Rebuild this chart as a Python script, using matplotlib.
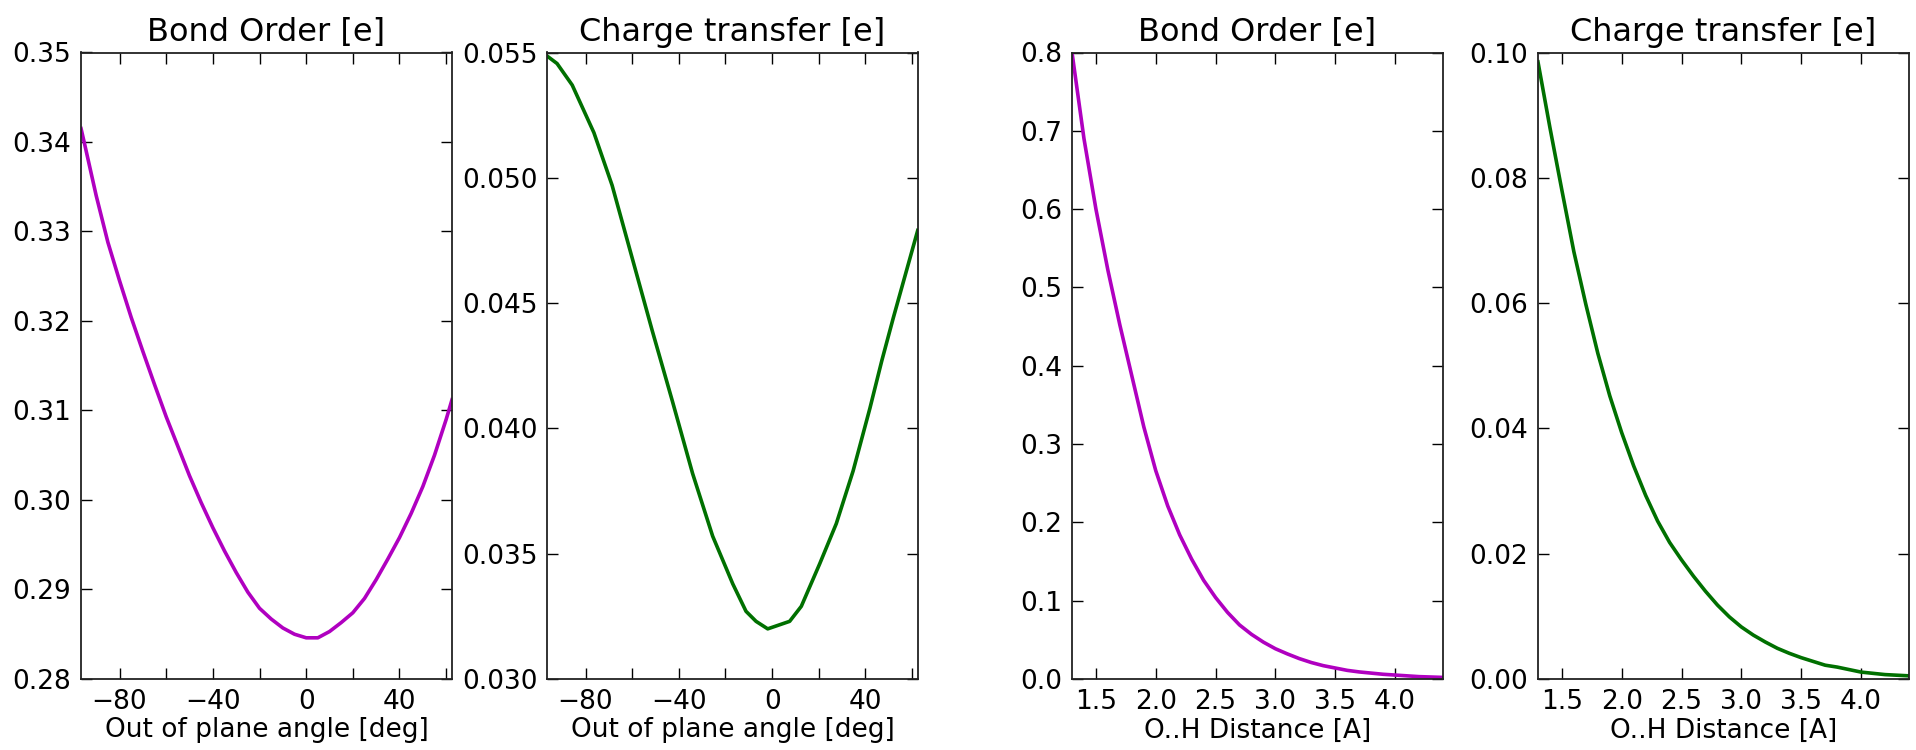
import matplotlib
matplotlib.use("Agg")
import matplotlib.pyplot as plt
from matplotlib.ticker import MultipleLocator, FormatStrFormatter

# out-of-plane angle scan [deg]
ANGLE = [-96.5, -95, -90, -85, -80, -75, -70, -65, -60, -55, -50, -45, -40,
         -35, -30, -25, -20, -15, -10, -5, 0, 5, 10, 15, 20, 25, 30, 35, 40,
         45, 50, 55, 60, 62.5]
ANGLE_BO = [0.3415, 0.3398, 0.3340, 0.3288, 0.3245, 0.3204, 0.3166, 0.3129,
            0.3093, 0.3060, 0.3027, 0.2997, 0.2969, 0.2943, 0.2919, 0.2897,
            0.2879, 0.2867, 0.2857, 0.2850, 0.2846, 0.2846, 0.2853, 0.2863,
            0.2874, 0.2890, 0.2911, 0.2934, 0.2958, 0.2985, 0.3015, 0.3050,
            0.3090, 0.3112]

ANGLE_CT_X = [-96.9, -92.2, -85.7, -76.4, -68.6, -60.0, -51.4, -42.8, -34.1,
              -25.5, -16.9, -11.2, -6.9, -1.9, 7.5, 12.5, 20.4, 27.5, 34.7,
              41.9, 47.0, 51.9, 57.6, 62.4]
ANGLE_CT = [0.05489, 0.05456, 0.0537, 0.0518, 0.0497, 0.0468, 0.0439, 0.0411,
            0.0382, 0.0357, 0.0338, 0.0327, 0.0323, 0.0320, 0.0323, 0.0329,
            0.0346, 0.0362, 0.0383, 0.0408, 0.0427, 0.0444, 0.0463, 0.0479]

# O..H distance scan [A]
DIST = [1.3, 1.4, 1.5, 1.6, 1.7, 1.8, 1.9, 2.0, 2.1, 2.2, 2.3, 2.4, 2.5, 2.6,
        2.7, 2.8, 2.9, 3.0, 3.1, 3.2, 3.3, 3.4, 3.5, 3.6, 3.7, 3.8, 3.9, 4.0,
        4.1, 4.2, 4.3, 4.4]
DIST_BO = [0.800, 0.690, 0.600, 0.522, 0.452, 0.387, 0.322, 0.266, 0.221,
           0.184, 0.153, 0.126, 0.104, 0.085, 0.069, 0.057, 0.047, 0.0386,
           0.032, 0.026, 0.021, 0.017, 0.014, 0.011, 0.009, 0.0075, 0.006,
           0.005, 0.004, 0.003, 0.0025, 0.002]
DIST_CT = [0.0985, 0.0880, 0.0780, 0.0682, 0.0598, 0.0520, 0.0452, 0.0393,
           0.0340, 0.0293, 0.0252, 0.0218, 0.0190, 0.0164, 0.0140, 0.0118,
           0.0099, 0.0083, 0.0070, 0.0059, 0.0049, 0.0041, 0.0034, 0.0028,
           0.0022, 0.0019, 0.0015, 0.0011, 0.0009, 0.0007, 0.0006, 0.0005]

PURPLE = "#b000c0"
GREEN = "#007000"

plt.rcParams["font.family"] = "DejaVu Sans"
plt.rcParams["font.size"] = 19


def style_axes(ax):
    for s in ax.spines.values():
        s.set_linewidth(1.3)
        s.set_color("#222222")
    ax.tick_params(which="both", direction="in", top=True, right=True,
                   length=8, width=1.0, pad=7, labelsize=19)


def main():
    fig = plt.figure(figsize=(19.16, 7.5), dpi=100)
    lefts = [0.0423, 0.2855, 0.5595, 0.8027]
    bottom, width, height = 0.0947, 0.1936, 0.8353
    axes = [fig.add_axes([l, bottom, width, height]) for l in lefts]

    ax = axes[0]
    ax.plot(ANGLE, ANGLE_BO, color=PURPLE, lw=2.6)
    ax.set_ylim(0.28, 0.35)
    ax.yaxis.set_major_locator(MultipleLocator(0.01))
    ax.yaxis.set_major_formatter(FormatStrFormatter("%.2f"))
    ax.set_title("Bond Order [e]", fontsize=23, pad=8)

    ax = axes[1]
    ax.plot(ANGLE_CT_X, ANGLE_CT, color=GREEN, lw=2.6)
    ax.set_ylim(0.030, 0.055)
    ax.yaxis.set_major_locator(MultipleLocator(0.005))
    ax.yaxis.set_major_formatter(FormatStrFormatter("%.3f"))
    ax.set_title("Charge transfer [e]", fontsize=23, pad=8)

    for ax in axes[:2]:
        ax.set_xlim(-96.5, 62.5)
        ax.xaxis.set_major_locator(MultipleLocator(40))
        ax.xaxis.set_minor_locator(MultipleLocator(20))
        ax.set_xlabel("Out of plane angle [deg]", fontsize=19, labelpad=2)

    ax = axes[2]
    ax.plot(DIST, DIST_BO, color=PURPLE, lw=2.6)
    ax.set_ylim(0.0, 0.8)
    ax.yaxis.set_major_locator(MultipleLocator(0.1))
    ax.yaxis.set_major_formatter(FormatStrFormatter("%.1f"))
    ax.set_title("Bond Order [e]", fontsize=23, pad=8)

    ax = axes[3]
    ax.plot(DIST, DIST_CT, color=GREEN, lw=2.6)
    ax.set_ylim(0.0, 0.10)
    ax.yaxis.set_major_locator(MultipleLocator(0.02))
    ax.yaxis.set_major_formatter(FormatStrFormatter("%.2f"))
    ax.set_title("Charge transfer [e]", fontsize=23, pad=8)

    for ax in axes[2:]:
        ax.set_xlim(1.3, 4.4)
        ax.xaxis.set_major_locator(MultipleLocator(0.5))
        ax.xaxis.set_major_formatter(FormatStrFormatter("%.1f"))
        ax.set_xlabel("O..H Distance [A]", fontsize=19, labelpad=2)

    for ax in axes:
        style_axes(ax)

    fig.savefig("out.png", dpi=100)


if __name__ == "__main__":
    main()
